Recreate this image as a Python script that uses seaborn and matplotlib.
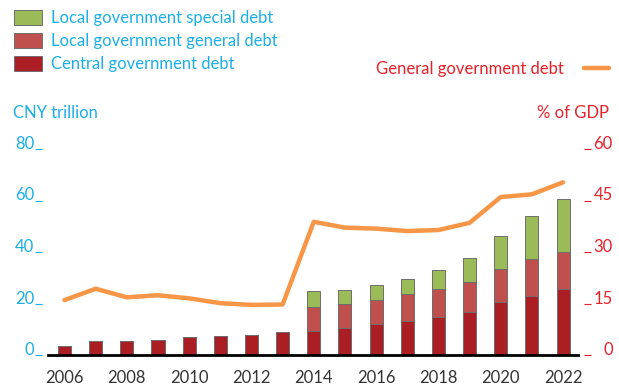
import matplotlib
matplotlib.use("Agg")
import matplotlib.pyplot as plt
from matplotlib.patches import Patch
import seaborn as sns
import pandas as pd

# Chinese government debt, CNY trillion, and general government debt, % of GDP
years = list(range(2006, 2023))
central_debt = [3.5, 5.3, 5.4, 6.0, 6.8, 7.2, 7.8, 8.8, 9.5, 10.6, 11.9, 13.3, 14.9, 16.8, 20.7, 23.1, 25.7]
local_general_debt = [0, 0, 0, 0, 0, 0, 0, 0, 9.1, 9.1, 9.6, 10.4, 10.7, 11.6, 12.7, 14.0, 14.3]
local_special_debt = [0, 0, 0, 0, 0, 0, 0, 0, 6.2, 5.5, 5.7, 6.0, 7.3, 9.2, 12.8, 16.7, 20.7]
general_debt_pct_gdp = [16.0, 19.3, 16.8, 17.4, 16.5, 15.1, 14.6, 14.7, 38.8, 37.1, 36.8, 36.1, 36.4, 38.5, 46.0, 46.8, 50.3]
x_tick_years = list(range(2006, 2023, 2))
left_ticks = [0, 20, 40, 60, 80]
right_ticks = [0, 15, 30, 45, 60]

series_labels = ["Local government special debt", "Local government general debt", "Central government debt"]
C_SPECIAL = "#9BBB59"
C_GENERAL = "#C0504D"
C_CENTRAL = "#AA1E24"
C_LINE = "#F79646"
C_BLUE = "#1BAFE8"
C_RED = "#E8202A"
C_EDGE = "#6E6E6E"

df = pd.DataFrame({
    "year": years,
    "central": central_debt,
    "general": local_general_debt,
    "special": local_special_debt,
    "pct": general_debt_pct_gdp,
})
df["top_general"] = df["central"] + df["general"]
df["top_special"] = df["top_general"] + df["special"]

sns.set_theme(style="white")
plt.rcParams["font.family"] = ["Lato", "DejaVu Sans"]

fig = plt.figure(figsize=(6.19, 3.88), dpi=100)
ax = fig.add_axes([48 / 619, (388 - 355) / 388, (578 - 48) / 619, (355 - 149) / 388])

bar_w = 0.42
for col, color in [("top_special", C_SPECIAL), ("top_general", C_GENERAL), ("central", C_CENTRAL)]:
    sns.barplot(data=df, x="year", y=col, native_scale=True, width=bar_w, color=color,
                saturation=1, edgecolor=C_EDGE, linewidth=0.7, ax=ax, zorder=2)

ax.set_xlim(2005.47, 2022.48)
ax.set_ylim(0, 80)
ax.set_xlabel("")
ax.set_ylabel("")
for s in ["top", "right", "left"]:
    ax.spines[s].set_visible(False)
ax.spines["left"].set_position(("outward", 4))
ax.spines["bottom"].set_color("black")
ax.spines["bottom"].set_linewidth(2)
ax.spines["bottom"].set_zorder(5)
ax.tick_params(axis="x", length=0, pad=11, labelcolor="#333333", labelsize=12)
ax.tick_params(axis="y", direction="out", length=5, width=0.8, color=C_BLUE, pad=1, left=True,
               labelcolor=C_BLUE, labelsize=12)
ax.set_xticks(x_tick_years)
ax.set_xticklabels([str(y) for y in x_tick_years])
ax.set_yticks(left_ticks)
ax.set_yticklabels([str(v) for v in left_ticks], va="baseline")

ax2 = ax.twinx()
sns.lineplot(data=df, x="year", y="pct", color=C_LINE, linewidth=3.2, ax=ax2, zorder=3)
ax2.set_ylim(0, 60)
ax2.set_xlim(2005.47, 2022.48)
ax2.set_ylabel("")
for s in ["top", "left", "bottom", "right"]:
    ax2.spines[s].set_visible(False)
ax2.spines["right"].set_position(("outward", 4))
ax2.tick_params(axis="y", direction="out", length=5, width=0.8, color=C_RED, pad=16, right=True,
                labelcolor=C_RED, labelsize=12)
ax2.set_yticks(right_ticks)
ax2.set_yticklabels([str(v) for v in right_ticks], va="baseline", ha="right")

# legend for the bar series
handles = [Patch(facecolor=c, edgecolor=C_EDGE, linewidth=0.7) for c in (C_SPECIAL, C_GENERAL, C_CENTRAL)]
fig.legend(handles, series_labels, loc="upper left", bbox_to_anchor=(9 / 619, 1 - 5 / 388),
           frameon=False, fontsize=12, labelcolor=C_BLUE, handlelength=1.7, handleheight=1.0,
           handletextpad=0.5, labelspacing=0.42, borderaxespad=0, borderpad=0.3)

# legend for the line series, label on the left of the key
fig.legend([plt.Line2D([], [], color=C_LINE, linewidth=3.2)], ["General government debt"],
           loc="center right", bbox_to_anchor=(609 / 619, 1 - 69 / 388), frameon=False,
           fontsize=12, labelcolor=C_RED, markerfirst=False, handlelength=1.5,
           handletextpad=1.2, borderaxespad=0, borderpad=0)

fig.text(13 / 619, 1 - 113 / 388, "CNY trillion", color=C_BLUE, fontsize=12, ha="left", va="center")
fig.text(609 / 619, 1 - 113 / 388, "% of GDP", color=C_RED, fontsize=12, ha="right", va="center")

fig.savefig("out.png", dpi=100)
